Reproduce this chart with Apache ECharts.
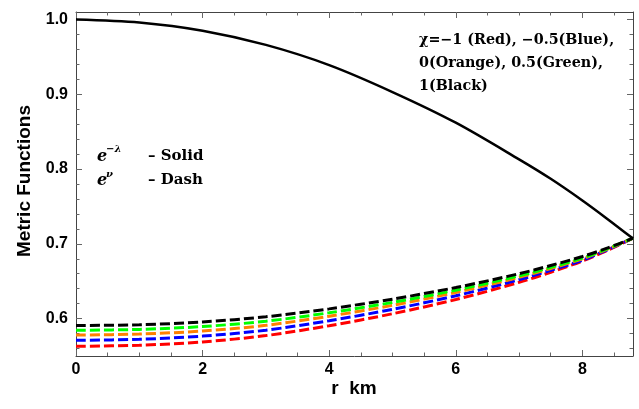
<!DOCTYPE html>
<html>
<head>
<meta charset="utf-8">
<script src="https://cdn.jsdelivr.net/npm/echarts@6/dist/echarts.min.js"></script>
<style>html,body{margin:0;padding:0;background:#fff;}#c{width:639px;height:409px;}</style>
</head>
<body>
<div id="c"></div>
<script>
// radial coordinate (km)
const rValues = [0, 1, 2, 3, 4, 5, 6, 7, 7.5, 8, 8.4, 8.8];
// e^{-lambda} (solid black)
const eMinusLambda = [1.000, 0.996, 0.985, 0.966, 0.939, 0.903, 0.862, 0.813, 0.787, 0.758, 0.733, 0.707];
// e^{nu} (dashed), chi = -1, -0.5, 0, 0.5, 1
const eNuRed    = [0.5630, 0.5644, 0.5688, 0.5773, 0.5905, 0.6065, 0.6255, 0.6485, 0.6620, 0.6770, 0.6915, 0.7075];
const eNuBlue   = [0.5710, 0.5723, 0.5766, 0.5845, 0.5972, 0.6124, 0.6305, 0.6520, 0.6645, 0.6780, 0.6922, 0.7075];
const eNuOrange = [0.5780, 0.5793, 0.5834, 0.5910, 0.6032, 0.6178, 0.6350, 0.6552, 0.6670, 0.6800, 0.6930, 0.7075];
const eNuGreen  = [0.5844, 0.5856, 0.5894, 0.5965, 0.6078, 0.6217, 0.6380, 0.6572, 0.6685, 0.6810, 0.6935, 0.7075];
const eNuBlack  = [0.5907, 0.5918, 0.5955, 0.6025, 0.6130, 0.6260, 0.6415, 0.6600, 0.6710, 0.6830, 0.6945, 0.7075];
// ticks
const xMajorTicks = [0, 2, 4, 6, 8];
const xMinorTicks = [0.5, 1, 1.5, 2.5, 3, 3.5, 4.5, 5, 5.5, 6.5, 7, 7.5, 8.5];
const yMajorTicks = [0.6, 0.7, 0.8, 0.9, 1.0];
const yMinorTicks = [0.56, 0.58, 0.62, 0.64, 0.66, 0.68, 0.72, 0.74, 0.76, 0.78, 0.82, 0.84, 0.86, 0.88, 0.92, 0.94, 0.96, 0.98];

const pairs = arr => rValues.map((r, i) => [r, arr[i]]);

const X_MIN = 0, X_MAX = 8.8, Y_MIN = 0.55, Y_MAX = 1.01;
const frameColor = '#444';
const tickColor = '#666';
const labelFont = {fontFamily: 'Liberation Sans', fontWeight: 'bold', fontSize: 16, color: '#000'};

function xAx(pos, ticks, len, labels, line) {
  return {
    type: 'value', position: pos, min: X_MIN, max: X_MAX,
    axisLine: {show: line, onZero: false, lineStyle: {color: frameColor, width: 1}},
    axisTick: {show: true, inside: true, length: len, customValues: ticks, lineStyle: {color: tickColor, width: 1}},
    axisLabel: labels ? Object.assign({show: true, customValues: ticks, margin: 6}, labelFont) : {show: false},
    splitLine: {show: false}
  };
}
function yAx(pos, ticks, len, labels, line) {
  return {
    type: 'value', position: pos, min: Y_MIN, max: Y_MAX,
    axisLine: {show: line, onZero: false, lineStyle: {color: frameColor, width: 1}},
    axisTick: {show: true, inside: true, length: len, customValues: ticks, lineStyle: {color: tickColor, width: 1}},
    axisLabel: labels ? Object.assign({show: true, customValues: ticks, margin: 8, formatter: v => v.toFixed(1)}, labelFont) : {show: false},
    splitLine: {show: false}
  };
}

function dashed(name, data, color) {
  return {
    name: name, type: 'line', data: pairs(data), xAxisIndex: 0, yAxisIndex: 0,
    smooth: 0.3, showSymbol: false, symbol: 'none', silent: true,
    lineStyle: {color: color, width: 3, type: [10, 4]}
  };
}

const chart = echarts.init(document.getElementById('c'), null, {renderer: 'canvas'});
chart.setOption({
  animation: false,
  backgroundColor: '#fff',
  grid: {left: 76, right: 6, top: 12, bottom: 53, containLabel: false},
  xAxis: [
    xAx('bottom', xMajorTicks, 6, true, true),
    xAx('bottom', xMinorTicks, 3.5, false, false),
    xAx('top', xMajorTicks, 6, false, true),
    xAx('top', xMinorTicks, 3.5, false, false)
  ],
  yAxis: [
    yAx('left', yMajorTicks, 6, true, true),
    yAx('left', yMinorTicks, 3.5, false, false),
    yAx('right', yMajorTicks, 6, false, true),
    yAx('right', yMinorTicks, 3.5, false, false)
  ],
  series: [
    dashed('chi=-1', eNuRed, '#ff0000'),
    dashed('chi=-0.5', eNuBlue, '#0000ff'),
    dashed('chi=0', eNuOrange, '#ff8000'),
    dashed('chi=0.5', eNuGreen, '#00ff00'),
    dashed('chi=1', eNuBlack, '#000000'),
    {
      name: 'e^-lambda', type: 'line', data: pairs(eMinusLambda), xAxisIndex: 0, yAxisIndex: 0,
      smooth: 0.3, showSymbol: false, symbol: 'none', silent: true,
      lineStyle: {color: '#000', width: 2.5}
    }
  ],
  graphic: [
    {type: 'text', rotation: Math.PI / 2, x: 25, y: 181,
     style: {text: 'Metric Functions', fontFamily: 'Liberation Sans', fontWeight: 'bold', fontSize: 19, fill: '#000', align: 'center', verticalAlign: 'middle'}},
    {type: 'text', x: 354, y: 389,
     style: {text: 'r  km', fontFamily: 'Liberation Sans', fontWeight: 'bold', fontSize: 19, fill: '#000', align: 'center', verticalAlign: 'middle'}},
    {type: 'text', x: 419, y: 29,
     style: {text: 'χ=−1 (Red), −0.5(Blue),\n0(Orange), 0.5(Green),\n1(Black)', fontFamily: 'DejaVu Serif', fontWeight: 'bold', fontSize: 14.3, lineHeight: 23, fill: '#000', align: 'left', verticalAlign: 'top'}},
    {type: 'text', x: 97, y: 157,
     style: {text: 'e', fontFamily: 'DejaVu Serif', fontStyle: 'italic', fontWeight: 'bold', fontSize: 16, fill: '#000', align: 'left', verticalAlign: 'middle'}},
    {type: 'text', x: 106, y: 149,
     style: {text: '−λ', fontFamily: 'DejaVu Serif', fontStyle: 'italic', fontWeight: 'bold', fontSize: 10, fill: '#000', align: 'left', verticalAlign: 'middle'}},
    {type: 'text', x: 97, y: 181,
     style: {text: 'e', fontFamily: 'DejaVu Serif', fontStyle: 'italic', fontWeight: 'bold', fontSize: 16, fill: '#000', align: 'left', verticalAlign: 'middle'}},
    {type: 'text', x: 106, y: 174,
     style: {text: 'ν', fontFamily: 'DejaVu Serif', fontStyle: 'italic', fontWeight: 'bold', fontSize: 10, fill: '#000', align: 'left', verticalAlign: 'middle'}},
    {type: 'text', x: 148, y: 156,
     style: {text: '– Solid', fontFamily: 'DejaVu Serif', fontWeight: 'bold', fontSize: 15, fill: '#000', align: 'left', verticalAlign: 'middle'}},
    {type: 'text', x: 148, y: 180,
     style: {text: '– Dash', fontFamily: 'DejaVu Serif', fontWeight: 'bold', fontSize: 15, fill: '#000', align: 'left', verticalAlign: 'middle'}}
  ]
});
</script>
</body>
</html>
